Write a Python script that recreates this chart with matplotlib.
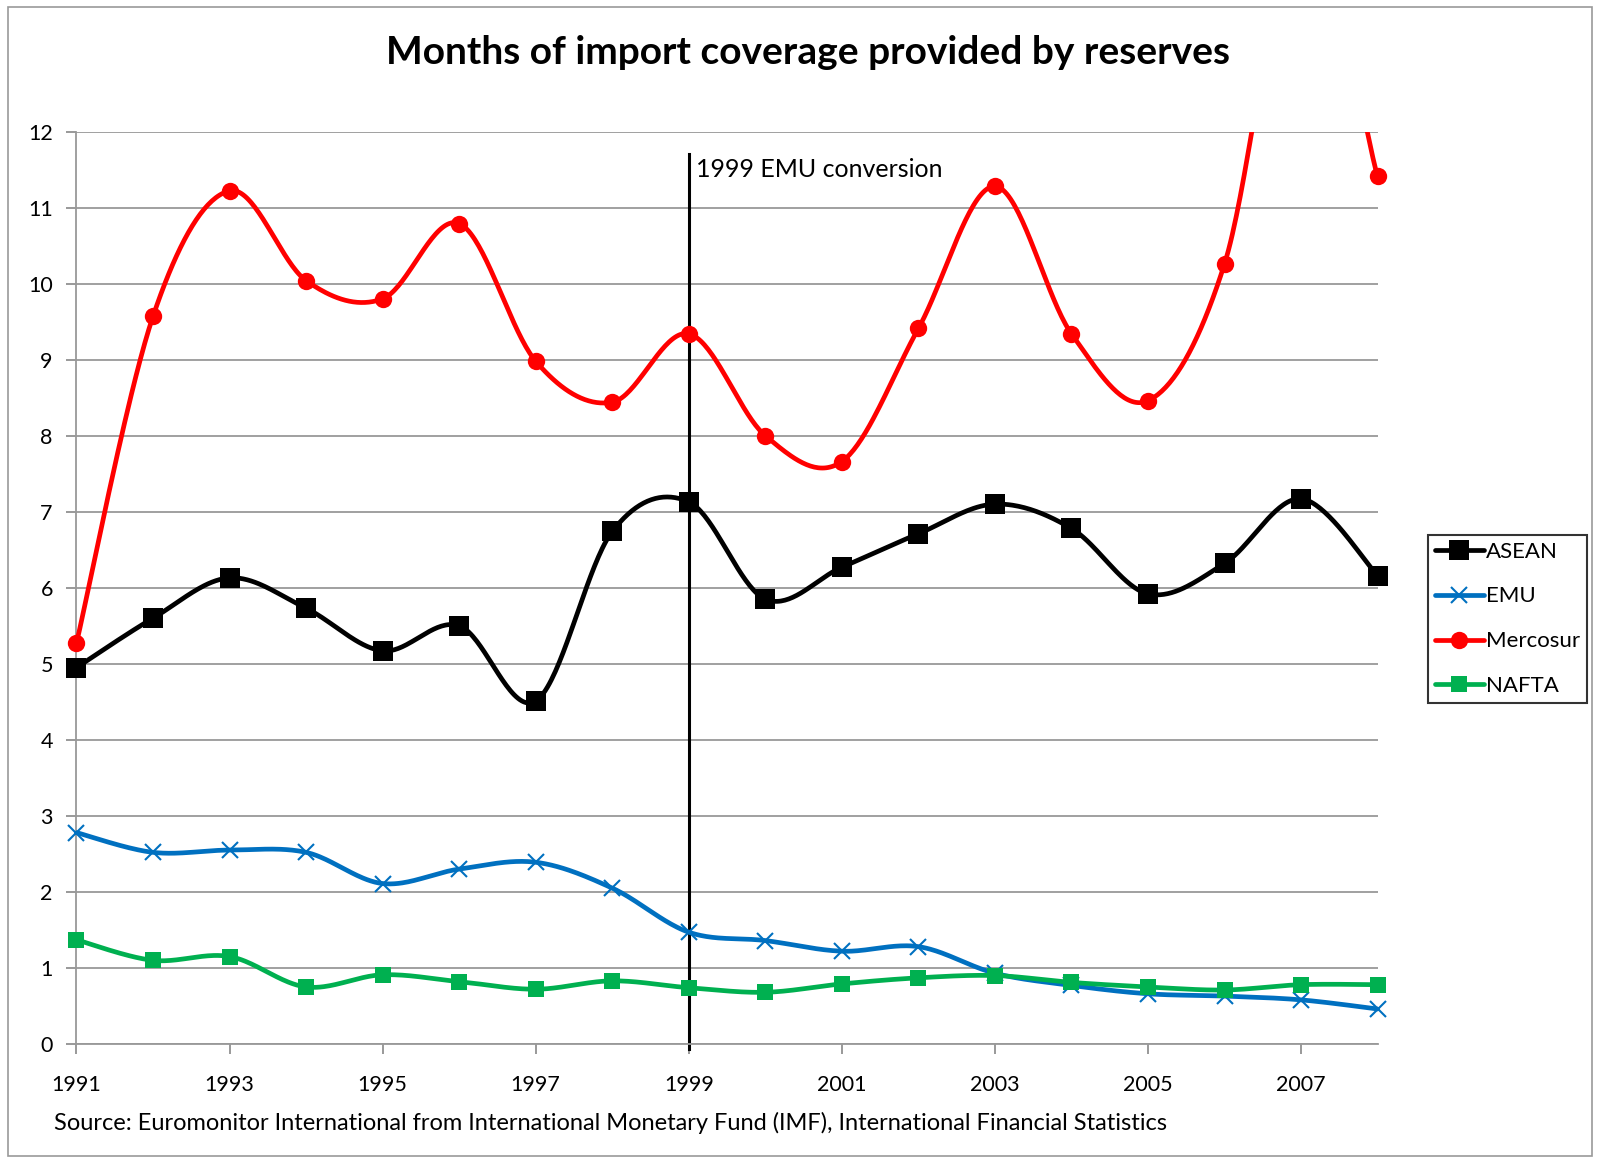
import numpy as np
import matplotlib.pyplot as plt
from matplotlib.patches import Rectangle

# --- datos
years = list(range(1991, 2009))
asean = [4.95, 5.60, 6.13, 5.73, 5.17, 5.50, 4.51, 6.74, 7.13, 5.85, 6.27, 6.71, 7.10, 6.78, 5.92, 6.32, 7.17, 6.16]
emu = [2.78, 2.52, 2.55, 2.52, 2.11, 2.30, 2.39, 2.05, 1.47, 1.36, 1.22, 1.28, 0.93, 0.77, 0.66, 0.63, 0.58, 0.46]
mercosur = [5.27, 9.57, 11.22, 10.04, 9.80, 10.79, 8.98, 8.44, 9.34, 8.00, 7.66, 9.41, 11.28, 9.34, 8.46, 10.26, 14.8, 11.41]
nafta = [1.37, 1.10, 1.15, 0.75, 0.91, 0.82, 0.72, 0.83, 0.74, 0.68, 0.79, 0.87, 0.90, 0.81, 0.75, 0.71, 0.78, 0.78]

series = [
    ('ASEAN', asean, '#000000', 's', 14, None),
    ('EMU', emu, '#0070C0', 'x', 11, 1.5),
    ('Mercosur', mercosur, '#FF0000', 'o', 12.5, None),
    ('NAFTA', nafta, '#00B050', 's', 11.5, None),
]


def suavizar(x, y, n=40):
    # curva tipo Excel (Bezier con puntos de control a 1/6)
    x = np.asarray(x, float)
    y = np.asarray(y, float)
    pts = np.column_stack([x, y])
    out = []
    for i in range(len(pts) - 1):
        p0 = pts[max(i - 1, 0)]
        p1 = pts[i]
        p2 = pts[i + 1]
        p3 = pts[min(i + 2, len(pts) - 1)]
        c1 = p1 + (p2 - p0) / 6.0
        c2 = p2 - (p3 - p1) / 6.0
        t = np.linspace(0, 1, n)[:, None]
        seg = ((1 - t) ** 3) * p1 + 3 * ((1 - t) ** 2) * t * c1 + 3 * (1 - t) * t ** 2 * c2 + t ** 3 * p2
        out.append(seg if i == 0 else seg[1:])
    s = np.vstack(out)
    return s[:, 0], s[:, 1]


plt.rcParams['font.family'] = ['Lato', 'DejaVu Sans']

fig = plt.figure(figsize=(16, 11.61), dpi=100)
fig.patches.append(Rectangle((0.005, 0.004), 0.99, 0.99, transform=fig.transFigure,
                             fill=False, edgecolor='#999999', linewidth=1.2))

ax = fig.add_axes([0.0478, 0.1008, 0.8132, 0.7859])

ax.axvline(1999, ymin=-0.006, ymax=0.975, color='black', linewidth=2.2, zorder=2, clip_on=False)
ax.text(1999.1, 11.5, '1999 EMU conversion', fontsize=18, va='center', ha='left')

for nombre, vals, col, mk, ms, mew in series:
    xs, ys = suavizar(years, vals)
    ax.plot(xs, ys, color=col, linewidth=3.4, zorder=3, solid_capstyle='round')
    kw = dict(markeredgewidth=mew) if mew else dict(markeredgewidth=0)
    m = [(x, v) for x, v in zip(years, vals) if v <= 12]
    ax.plot([p[0] for p in m], [p[1] for p in m], linestyle='none', marker=mk, markersize=ms,
            color=col, zorder=4, clip_on=False, **kw)
    ax.plot([], [], color=col, linewidth=3.4, marker=mk, markersize=ms, label=nombre,
            solid_capstyle='round', **kw)

ax.set_xlim(1991, 2008)
ax.set_ylim(0, 12)
ax.set_xticks(range(1991, 2008, 2))
ax.set_yticks(range(0, 13))
ax.tick_params(axis='both', labelsize=15.5, color='#888888', direction='out', length=7, width=1.2)
ax.tick_params(axis='x', pad=15)
ax.tick_params(axis='y', pad=10)
ax.grid(axis='y', color='#999999', linewidth=1.3)
ax.set_axisbelow(True)
for lado in ['top', 'right']:
    ax.spines[lado].set_visible(False)
for lado in ['left', 'bottom']:
    ax.spines[lado].set_color('#999999')
    ax.spines[lado].set_linewidth(1.3)

fig.suptitle('Months of import coverage provided by reserves', x=0.505, y=0.97,
             fontsize=28, fontweight='bold')

leg = ax.legend(loc='upper left', bbox_to_anchor=(1.039, 0.558), borderaxespad=0, frameon=True,
                fancybox=False, edgecolor='black', fontsize=16, handlelength=2.2, handletextpad=0.1,
                labelspacing=1.12, borderpad=0.3)
leg.get_frame().set_linewidth(1.5)

fig.text(0.034, 0.027, 'Source: Euromonitor International from International Monetary Fund (IMF), International Financial Statistics',
         fontsize=17)

plt.savefig('out.png', dpi=100)
